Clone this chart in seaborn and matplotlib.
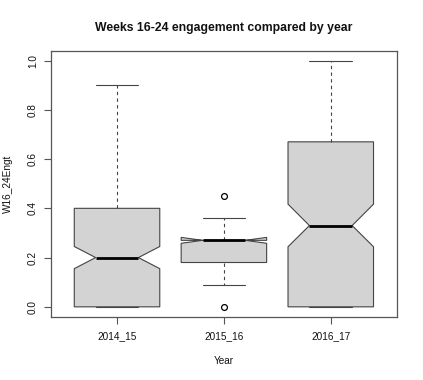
import numpy as np
import matplotlib
matplotlib.use("Agg")
import matplotlib.pyplot as plt
import seaborn as sns

# box summaries (R-style notched boxplot)
years = ["2014_15", "2015_16", "2016_17"]
whislo = [0.00, 0.09, 0.00]
q1 = [0.00, 0.18, 0.00]
med = [0.20, 0.27, 0.33]
q3 = [0.40, 0.27, 0.67]
whishi = [0.90, 0.36, 1.00]
notch_lo = [0.155, 0.258, 0.244]
notch_hi = [0.245, 0.282, 0.417]
outliers = [[], [0.45, 0.00], []]

sns.set_style("ticks")
plt.rcParams['font.family'] = ['Liberation Sans', 'DejaVu Sans']
plt.rcParams['text.color'] = '#111111'
plt.rcParams['axes.labelcolor'] = '#111111'
plt.rcParams['xtick.labelcolor'] = '#111111'
plt.rcParams['ytick.labelcolor'] = '#111111'

stats = []
for i, y in enumerate(years):
    stats.append(dict(label=y, whislo=whislo[i], q1=q1[i], med=med[i], q3=q3[i],
                      whishi=whishi[i], cilo=notch_lo[i], cihi=notch_hi[i],
                      fliers=np.array(outliers[i])))

fig = plt.figure(figsize=(4.23, 3.80), dpi=100)
ax = fig.add_axes([0.12, 0.1666, 0.8186, 0.7])

edge = '#444444'
ax.bxp(stats, positions=[1, 2, 3], widths=0.8, shownotches=True, patch_artist=True,
       boxprops=dict(facecolor='#d3d3d3', edgecolor=edge, linewidth=0.8),
       whiskerprops=dict(color=edge, linestyle=(0, (3, 3)), linewidth=0.8),
       capprops=dict(color=edge, linewidth=0.8),
       medianprops=dict(color='black', linewidth=2.0),
       flierprops=dict(marker='o', markerfacecolor='none', markeredgecolor='black',
                       markersize=4.2, markeredgewidth=0.9))

ax.set_xlim(0.38, 3.62)
ax.set_ylim(-0.04, 1.04)
ax.set_yticks([0.0, 0.2, 0.4, 0.6, 0.8, 1.0])
ax.set_yticklabels(["0.0", "0.2", "0.4", "0.6", "0.8", "1.0"], rotation=90, va='center')
ax.set_xticks([1, 2, 3])
ax.set_xticklabels(years)
ax.tick_params(axis='both', labelsize=7.2, length=4.8, width=0.8, color='#555555')
ax.tick_params(axis='x', pad=5.5)
ax.tick_params(axis='y', pad=4.5)
for s in ax.spines.values():
    s.set_color('#555555')
    s.set_linewidth(0.9)

ax.set_title("Weeks 16-24 engagement compared by year", fontsize=8.8,
             fontweight='bold', pad=14)
ax.set_xlabel("Year", fontsize=7.2, labelpad=11)
ax.set_ylabel("W16_24Engt", fontsize=7.2, labelpad=11)

fig.savefig("out.png", dpi=100)
